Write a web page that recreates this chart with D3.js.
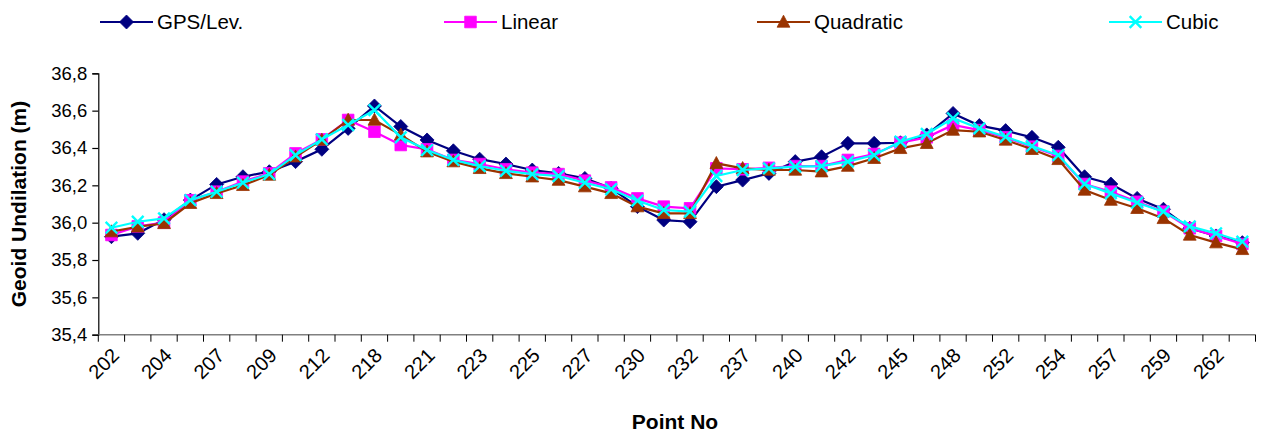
<!DOCTYPE html>
<html><head><meta charset="utf-8">
<script src="https://cdn.jsdelivr.net/npm/d3@7"></script>
<style>body{margin:0;background:#fff}svg{display:block;font-family:"Liberation Sans",Arial,sans-serif}</style>
</head><body><svg id="c" width="1266" height="432"></svg>
<script>
const categories = ["202","203","204","206","207","208","209","210","212","213","218","219","221","222","223","224","225","226","227","228","230","231","232","233","237","238","240","241","242","243","245","246","248","249","252","253","254","255","257","258","259","260","262","263"];
const gpsLev = [35.925,35.943,36.016,36.121,36.205,36.246,36.273,36.327,36.393,36.505,36.625,36.515,36.443,36.385,36.34,36.314,36.282,36.264,36.237,36.184,36.086,36.014,36.005,36.193,36.228,36.264,36.327,36.353,36.425,36.425,36.428,36.47,36.585,36.52,36.493,36.457,36.404,36.246,36.207,36.13,36.072,35.97,35.929,35.893];
const linear = [35.934,35.98,36.0,36.12,36.166,36.22,36.264,36.371,36.446,36.55,36.487,36.416,36.393,36.336,36.314,36.286,36.268,36.26,36.225,36.189,36.13,36.086,36.077,36.291,36.286,36.294,36.303,36.303,36.336,36.368,36.428,36.457,36.523,36.496,36.457,36.407,36.357,36.207,36.166,36.112,36.059,35.97,35.929,35.886];
const quadratic = [35.952,35.978,35.996,36.104,36.157,36.2,36.255,36.353,36.443,36.55,36.55,36.47,36.38,36.327,36.291,36.264,36.246,36.228,36.193,36.157,36.086,36.05,36.05,36.318,36.291,36.282,36.282,36.273,36.303,36.345,36.398,36.425,36.496,36.487,36.443,36.393,36.339,36.175,36.121,36.077,36.023,35.934,35.893,35.857];
const cubic = [35.973,36.005,36.023,36.121,36.166,36.214,36.26,36.362,36.446,36.523,36.603,36.457,36.389,36.336,36.303,36.278,36.26,36.25,36.214,36.179,36.118,36.068,36.059,36.25,36.282,36.291,36.3,36.303,36.327,36.362,36.434,36.475,36.559,36.505,36.46,36.41,36.362,36.207,36.157,36.107,36.059,35.98,35.943,35.898];
const yTicks = [35.4,35.6,35.8,36.0,36.2,36.4,36.6,36.8];
const seriesNames = ["GPS/Lev.","Linear","Quadratic","Cubic"];

const svg = d3.select("#c");
const L = 98.3, R = 1255.5, T = 73.3, B = 334.7;
const x = d3.scaleBand().domain(categories).range([L, R]).padding(0);
const y = d3.scaleLinear().domain([35.4, 36.8]).range([B, T]);
const cx = c => x(c) + x.bandwidth() / 2;
const loc = d3.formatLocale({decimal: ",", thousands: ".", grouping: [3], currency: ["", ""]});
const fmt = loc.format(".1f");

// y axis
const ya = svg.append("g").attr("transform", `translate(${L},0)`)
  .call(d3.axisLeft(y).tickValues(yTicks).tickSize(6).tickPadding(5).tickFormat(fmt));
ya.select(".domain").attr("stroke", "#000").attr("stroke-width", 1.2);
ya.selectAll(".tick line").attr("stroke", "#000").attr("stroke-width", 1.2);
ya.selectAll("text").attr("font-size", 18.5).attr("fill", "#000").attr("font-family", "Liberation Sans, Arial, sans-serif");

// x axis
const xg = svg.append("g");
xg.append("line").attr("x1", L).attr("x2", R).attr("y1", B).attr("y2", B).attr("stroke", "#808080").attr("stroke-width", 1.5);
xg.selectAll("line.tk").data(d3.range(categories.length + 1)).join("line").attr("class", "tk")
  .attr("x1", i => L + i * x.step()).attr("x2", i => L + i * x.step())
  .attr("y1", B).attr("y2", B + 7).attr("stroke", "#000").attr("stroke-width", 1);
xg.selectAll("text").data(categories.filter((c, i) => i % 2 === 0)).join("text")
  .attr("transform", c => `translate(${cx(c) + 4},${B + 17}) rotate(-45)`)
  .attr("text-anchor", "end").attr("dy", "0.35em").attr("font-size", 20).text(c => c);

// titles
svg.append("text").attr("x", 675).attr("y", 429).attr("text-anchor", "middle")
  .attr("font-weight", "bold").attr("font-size", 21).text("Point No");
svg.append("text").attr("transform", `translate(26,${(T + B) / 2}) rotate(-90)`).attr("text-anchor", "middle")
  .attr("font-weight", "bold").attr("font-size", 21).text("Geoid Undilation (m)");

const colors = ["#000080", "#FF00FF", "#993300", "#00FFFF"];

function marker(g, k) {
  let d;
  if (k === 0) { const s = 7; d = `M0,${-s}L${s},0L0,${s}L${-s},0Z`; }
  else if (k === 1) { const s = 5.8; d = `M${-s},${-s}H${s}V${s}H${-s}Z`; }
  else if (k === 2) { d = `M0,-6.8L6.4,5.2L-6.4,5.2Z`; }
  if (k === 3) {
    const s = 5.8;
    g.append("path").attr("d", `M${-s},${-s}L${s},${s}M${-s},${s}L${s},${-s}`)
      .attr("stroke", colors[k]).attr("stroke-width", 2.4).attr("fill", "none");
  } else {
    g.append("path").attr("d", d).attr("fill", colors[k]).attr("stroke", colors[k]).attr("stroke-width", 0.8);
  }
}

const line = d3.line().x((d, i) => cx(categories[i])).y(d => y(d));
[gpsLev, linear, quadratic, cubic].forEach((vals, k) => {
  const g = svg.append("g");
  g.append("path").attr("d", line(vals)).attr("fill", "none").attr("stroke", colors[k]).attr("stroke-width", 2.2);
  vals.forEach((v, i) => {
    const m = g.append("g").attr("transform", `translate(${cx(categories[i])},${y(v)})`);
    marker(m, k);
  });
});

// legend
const legX = [100, 444, 757, 1109];
seriesNames.forEach((n, k) => {
  const g = svg.append("g").attr("transform", `translate(${legX[k]},22)`);
  g.append("line").attr("x1", 0).attr("x2", 53).attr("stroke", colors[k]).attr("stroke-width", 2.2);
  const m = g.append("g").attr("transform", "translate(26.5,0)");
  marker(m, k);
  g.append("text").attr("x", 57).attr("dy", "0.36em").attr("font-size", 20.5).text(n);
});
</script></body></html>
